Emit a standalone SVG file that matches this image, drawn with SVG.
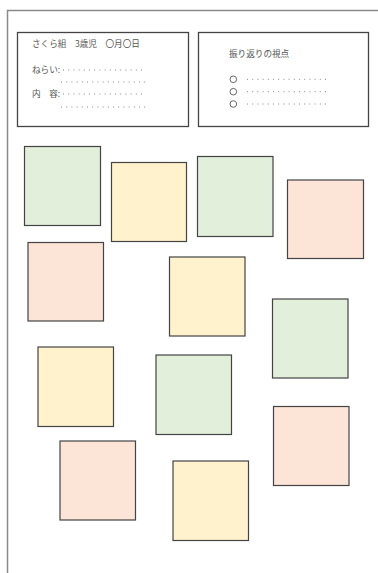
<svg xmlns="http://www.w3.org/2000/svg" width="378" height="573" viewBox="0 0 378 573">
<style>
.frame{fill:none;stroke:#8a8a8a;stroke-width:1.5}
.box{fill:#fff;stroke:#444;stroke-width:1.3}
.t{font-family:"Noto Sans CJK JP","Noto Sans CJK SC",sans-serif;font-size:8.6px;fill:#555}
.dots{stroke:#888;stroke-width:1;stroke-dasharray:1 4.2;fill:none}
.circ{fill:none;stroke:#666;stroke-width:1}
.sq{stroke:#444;stroke-width:1.2}
.g{fill:#e2efda}.y{fill:#fff2cc}.p{fill:#fce4d6}
</style>
<rect width="378" height="573" fill="#fff"/>
<path class="frame" d="M378,10.5 H7.5 V573"/>
<g id="plan-box">
<rect class="box" x="17.5" y="32.5" width="171" height="94"/>
<text class="t" x="32" y="47">さくら組　3歳児　〇月〇日</text>
<text class="t" x="32" y="72.5">ねらい:</text>
<line class="dots" x1="63" y1="70" x2="146" y2="70"/>
<line class="dots" x1="61" y1="82" x2="146" y2="82"/>
<text class="t" x="32" y="96.5">内　容:</text>
<line class="dots" x1="63" y1="94" x2="146" y2="94"/>
<line class="dots" x1="61" y1="107" x2="146" y2="107"/>
</g>
<g id="review-box">
<rect class="box" x="198.5" y="32.5" width="170" height="94"/>
<text class="t" x="229" y="57">振り返りの視点</text>
<circle class="circ" cx="233.3" cy="79.3" r="3.3"/>
<circle class="circ" cx="233.3" cy="91.7" r="3.3"/>
<circle class="circ" cx="233.3" cy="104" r="3.3"/>
<line class="dots" x1="247" y1="79.3" x2="329" y2="79.3"/>
<line class="dots" x1="247" y1="91.7" x2="329" y2="91.7"/>
<line class="dots" x1="247" y1="104" x2="329" y2="104"/>
</g>
<g id="notes">
<rect id="n1" class="sq g" x="24.5" y="146.5" width="76" height="79"/>
<rect id="n2" class="sq y" x="111.5" y="162.5" width="75" height="79"/>
<rect id="n3" class="sq g" x="197.5" y="156.5" width="75.5" height="80"/>
<rect id="n4" class="sq p" x="287.5" y="180" width="76" height="78.5"/>
<rect id="n5" class="sq p" x="28" y="242.5" width="75.5" height="78.5"/>
<rect id="n6" class="sq y" x="169.5" y="257" width="75.5" height="79"/>
<rect id="n7" class="sq g" x="272.5" y="299" width="75.5" height="79"/>
<rect id="n8" class="sq y" x="38" y="347" width="75.5" height="79.5"/>
<rect id="n9" class="sq g" x="156" y="355" width="75.5" height="79.5"/>
<rect id="n10" class="sq p" x="273.5" y="406.5" width="75.5" height="79"/>
<rect id="n11" class="sq p" x="60" y="441" width="75.5" height="79"/>
<rect id="n12" class="sq y" x="173" y="461" width="75.5" height="79.5"/>
</g>
</svg>
